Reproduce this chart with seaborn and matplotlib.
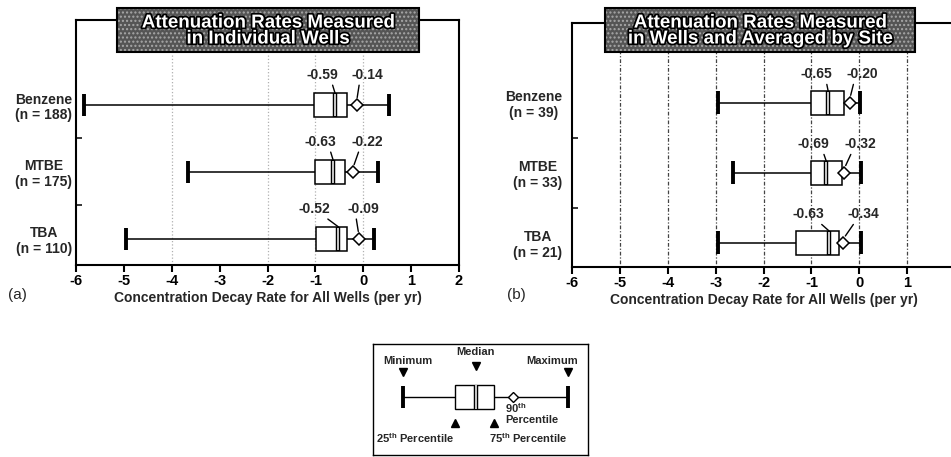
import numpy as np
import pandas as pd
import matplotlib
matplotlib.use("Agg")
import matplotlib.pyplot as plt
import matplotlib.patheffects as pe
from matplotlib.patches import Rectangle
import seaborn as sns

# ---------------- data ----------------
categories = ["Benzene", "MTBE", "TBA"]
n_a = [188, 175, 110]
n_b = [39, 33, 21]

# (a) individual wells
a_min = [-5.83, -3.67, -4.96]
a_q1 = [-1.02, -1.00, -0.98]
a_med = [-0.59, -0.63, -0.52]
a_q3 = [-0.33, -0.39, -0.33]
a_p90 = [-0.14, -0.22, -0.09]
a_max = [0.53, 0.30, 0.23]

# (b) averaged by site
b_min = [-2.94, -2.64, -2.96]
b_q1 = [-1.00, -1.00, -1.32]
b_med = [-0.65, -0.69, -0.63]
b_q3 = [-0.31, -0.36, -0.42]
b_p90 = [-0.20, -0.32, -0.34]
b_max = [0.02, 0.03, 0.04]

x_ticks = [-6, -5, -4, -3, -2, -1, 0, 1, 2]
a_grid = [-4, -2, -1, 0]
b_grid = [-5, -4, -3, -2, -1, 0, 1]

# legend illustration (schematic values)
leg_stats = [0.63, 1.72, 2.15, 2.53, 4.08]  # min, q1, median, q3, max
leg_p90 = 2.93

# label placement offsets (annotation layout)
a_med_dx = [-0.27, -0.27, -0.51]
a_p90_dx = [0.23, 0.31, 0.10]
b_med_dx = [-0.24, -0.27, -0.43]
b_p90_dx = [0.26, 0.34, 0.43]

# ---------------- style ----------------
sns.set_style("ticks")
plt.rcParams["font.family"] = ["Liberation Sans", "DejaVu Sans"]
plt.rcParams["font.weight"] = "bold"
plt.rcParams["axes.labelweight"] = "bold"
plt.rcParams["axes.unicode_minus"] = False
plt.rcParams["mathtext.fontset"] = "custom"
plt.rcParams["mathtext.bf"] = "Liberation Sans:bold"
plt.rcParams["mathtext.rm"] = "Liberation Sans:bold"

W, H = 951, 457
fig = plt.figure(figsize=(W / 100, H / 100), dpi=100)


def long_df(labels, *cols):
    rows = []
    for i, lab in enumerate(labels):
        for c in cols:
            rows.append((lab, c[i]))
    return pd.DataFrame(rows, columns=["cat", "rate"])


def panel(rect, ns, mins, q1s, meds, q3s, p90s, maxs, med_dx, p90_dx,
          ylim, bw, grid, grid_style, lab_dy):
    ax = fig.add_axes(rect)
    labels = [f"{c}\n(n = {n})" for c, n in zip(categories, ns)]
    df = long_df(labels, mins, q1s, meds, q3s, maxs)
    sns.boxplot(data=df, x="rate", y="cat", orient="h", whis=(0, 100),
                width=bw, color="white", linecolor="black", linewidth=1.1,
                fliersize=0, showcaps=False,
                medianprops=dict(linewidth=3.2, color="black"), ax=ax)
    ypos = np.arange(len(labels))
    # double median line look
    ax.vlines(meds, ypos - bw / 2 + 0.01, ypos + bw / 2 - 0.01, color="white",
              lw=1.1, zorder=6)
    # thick caps
    ax.vlines(mins, ypos - 0.165, ypos + 0.165, color="black", lw=2.8, zorder=6)
    ax.vlines(maxs, ypos - 0.165, ypos + 0.165, color="black", lw=2.8, zorder=6)
    # 90th percentile markers
    ax.plot(p90s, ypos, ls="none", marker="D", ms=6, mfc="white",
            mec="black", mew=1.1, zorder=7)
    # gridlines
    ax.vlines(grid, -0.75, ylim[0], zorder=0, **grid_style)
    # annotations
    for i, y in enumerate(ypos):
        ax.annotate(f"{meds[i]:.2f}", xy=(meds[i], y - bw / 2),
                    xytext=(meds[i] + med_dx[i], y - lab_dy),
                    ha="center", va="center", fontsize=10, weight="bold",
                    arrowprops=dict(arrowstyle="-", lw=1, color="black",
                                    shrinkA=0, shrinkB=0, relpos=(0.8, 0.0)),
                    zorder=8)
        ax.annotate(f"{p90s[i]:.2f}", xy=(p90s[i], y - 0.05),
                    xytext=(p90s[i] + p90_dx[i], y - lab_dy),
                    ha="center", va="center", fontsize=10, weight="bold",
                    arrowprops=dict(arrowstyle="-", lw=1, color="black",
                                    shrinkA=0, shrinkB=3, relpos=(0.25, 0.0)),
                    zorder=8)
    ax.set_xlim(x_ticks[0], x_ticks[-1])
    ax.set_xticks(x_ticks)
    ax.set_xticklabels([str(t) for t in x_ticks])
    ax.set_ylim(*ylim)
    ax.set_yticks(ypos)
    ax.set_yticklabels(labels, ha="right", multialignment="center",
                       linespacing=1.15)
    ax.set_yticks([0.5, 1.5], minor=True)
    ax.tick_params(axis="x", direction="out", length=5, width=1.5,
                   labelsize=10.5, pad=1.5, colors="black")
    ax.tick_params(axis="y", which="major", length=0, labelsize=10, pad=3)
    ax.tick_params(axis="y", which="minor", direction="in", length=4, width=1.3)
    ax.set_ylabel("")
    ax.set_xlabel("Concentration Decay Rate for All Wells (per yr)",
                  fontsize=10, labelpad=2)
    for s in ax.spines.values():
        s.set_visible(True)
        s.set_linewidth(1.5)
        s.set_color("black")
    return ax


ax_a = panel([76 / W, 1 - 265 / H, 383 / W, 245 / H], n_a,
             a_min, a_q1, a_med, a_q3, a_p90, a_max, a_med_dx, a_p90_dx,
             (2.39, -1.27), 0.36, a_grid,
             dict(colors="#b0b0b0", linestyles=":", lw=0.9), 0.45)
ax_b = panel([572 / W, 1 - 266.7 / H, 383 / W, 243.7 / H], n_b,
             b_min, b_q1, b_med, b_q3, b_p90, b_max, b_med_dx, b_p90_dx,
             (2.34, -1.14), 0.34, b_grid,
             dict(colors="#444444", linestyles=(0, (3, 1.5, 1, 1.5)), lw=0.9),
             0.41)
ax_b.tick_params(axis="y", which="major", pad=7)


# title boxes
def title_box(cx, cy, w, h, text):
    r = Rectangle(((cx - w / 2) / W, 1 - (cy + h / 2) / H), w / W, h / H,
                  transform=fig.transFigure, facecolor="#555555",
                  edgecolor="#a8a8a8", hatch="....", lw=0, zorder=10)
    fig.add_artist(r)
    r2 = Rectangle(((cx - w / 2) / W, 1 - (cy + h / 2) / H), w / W, h / H,
                   transform=fig.transFigure, facecolor="none",
                   edgecolor="black", lw=1.5, zorder=11)
    fig.add_artist(r2)
    fig.text(cx / W, 1 - (cy + 1) / H, text, ha="center", va="center",
             color="white", fontsize=13.5, weight="bold", linespacing=0.92,
             path_effects=[pe.withStroke(linewidth=2.5, foreground="black")],
             zorder=12)


title_box(268, 30, 302, 44, "Attenuation Rates Measured\nin Individual Wells")
title_box(760, 30, 310, 44, "Attenuation Rates Measured\nin Wells and Averaged by Site")

fig.text(8 / W, 1 - 295 / H, "(a)", fontsize=11, weight="normal",
         ha="left", va="center")
fig.text(507 / W, 1 - 295 / H, "(b)", fontsize=11, weight="normal",
         ha="left", va="center")

# legend illustration
lax = fig.add_axes([373 / W, 1 - 455 / H, 215 / W, 111 / H])
sns.boxplot(x=leg_stats, orient="h", whis=(0, 100), width=0.37,
            color="white", linecolor="black", linewidth=1.0, fliersize=0,
            showcaps=False, medianprops=dict(linewidth=3.2, color="black"),
            ax=lax)
lax.vlines([leg_stats[2]], -0.175, 0.175, color="white", lw=1.1, zorder=6)
lax.vlines([leg_stats[0], leg_stats[4]], -0.16, 0.16, color="black", lw=2.8,
           zorder=6)
lax.plot([leg_p90], [0], ls="none", marker="D", ms=5, mfc="white",
         mec="black", mew=1, zorder=7)
lax.plot([leg_stats[0], leg_stats[4]], [-0.37, -0.37], ls="none", marker="v",
         ms=6, color="black")
lax.plot([leg_stats[2]], [-0.46], ls="none", marker="v", ms=6, color="black")
lax.plot([leg_stats[1], leg_stats[3]], [0.39, 0.39], ls="none", marker="^",
         ms=6, color="black")
fs = 8
lax.text(leg_stats[0] + 0.1, -0.53, "Minimum", ha="center", va="center", fontsize=fs)
lax.text(leg_stats[2], -0.67, "Median", ha="center", va="center", fontsize=fs)
lax.text(leg_stats[4] - 0.34, -0.53, "Maximum", ha="center", va="center", fontsize=fs)
lax.text(leg_stats[1] - 0.84, 0.62, r"25$^{\mathbf{th}}$ Percentile",
         ha="center", va="center", fontsize=fs)
lax.text(leg_stats[3] + 0.71, 0.62, r"75$^{\mathbf{th}}$ Percentile",
         ha="center", va="center", fontsize=fs)
lax.text(leg_p90 - 0.17, 0.16, r"90$^{\mathbf{th}}$", ha="left",
         va="center", fontsize=fs)
lax.text(leg_p90 - 0.17, 0.34, "Percentile", ha="left", va="center", fontsize=fs)
lax.set_xlim(0, 4.5)
lax.set_ylim(0.866, -0.79)
lax.set_xticks([])
lax.set_yticks([])
lax.set_xlabel("")
lax.set_ylabel("")
for s in lax.spines.values():
    s.set_visible(True)
    s.set_linewidth(1.0)
    s.set_color("black")

fig.savefig("out.png", dpi=100)
